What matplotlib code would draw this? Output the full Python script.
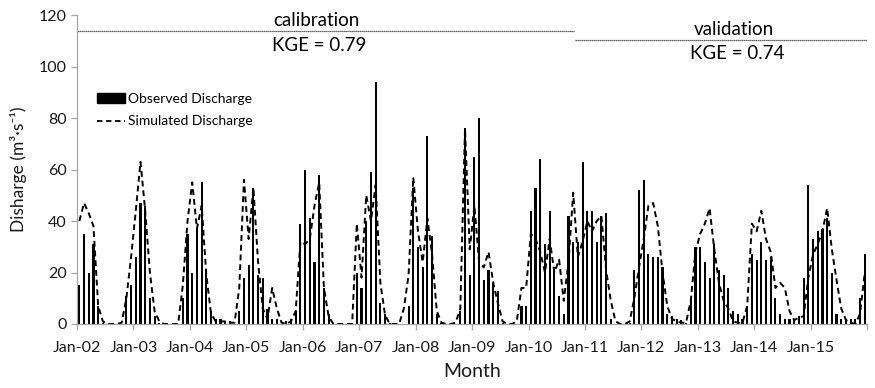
import numpy as np
import matplotlib
matplotlib.use("Agg")
import matplotlib.pyplot as plt
from matplotlib.patches import Patch
from matplotlib.lines import Line2D

plt.rcParams['font.family'] = ['Lato', 'DejaVu Sans']

years = ['Jan-02', 'Jan-03', 'Jan-04', 'Jan-05', 'Jan-06', 'Jan-07', 'Jan-08',
         'Jan-09', 'Jan-10', 'Jan-11', 'Jan-12', 'Jan-13', 'Jan-14', 'Jan-15']

# observed discharge, one row per year (Jan..Dec)
observed = [
    15, 35, 20, 31, 7, 0.5, 0, 0, 0, 0, 11, 15,
    26, 47, 46, 10, 3, 0.5, 0, 0, 0, 0, 10, 35,
    20, 37, 55, 21, 5, 2, 2, 1, 1, 0, 5, 18,
    23, 53, 19, 18, 6, 2, 2, 0, 1, 2, 5, 39,
    60, 41, 24, 58, 14, 4, 0.5, 0, 0, 0, 0, 20,
    14, 40, 59, 94, 8, 4, 0.5, 0, 0, 0, 7, 53,
    30, 22, 73, 34, 4, 0.5, 0, 0, 0, 5, 76, 19,
    65, 80, 17, 21, 16, 13, 0.5, 0, 0, 0, 7, 7,
    44, 53, 64, 31, 44, 22, 11, 4, 42, 32, 32, 63,
    44, 44, 32, 42, 43, 2, 0, 0, 0, 0.5, 21, 52,
    56, 27, 26, 26, 22, 4, 3, 2, 1.5, 0.5, 10, 30,
    30, 24, 18, 31, 21, 19, 14, 5, 4, 2, 7, 27,
    25, 32, 25, 26, 10, 4, 2, 2, 2, 3, 18, 54,
    33, 36, 37, 41, 20, 4, 2, 2, 2, 2, 10, 27,
]

# simulated discharge
simulated = [
    40, 47, 43, 38, 7, 1, 0, 0, 0, 0.5, 10, 26,
    44, 63, 44, 20, 5, 1, 0, 0, 0, 0, 15, 40,
    55, 37, 46, 19, 4, 1, 1, 1, 0.5, 0.5, 14, 56,
    33, 53, 24, 6, 2, 14, 6, 0.5, 0, 1, 5, 32,
    31, 33, 46, 55, 14, 3, 0, 0, 0, 0, 0, 39,
    18, 50, 40, 54, 16, 3.5, 0, 0, 0, 6, 19, 57,
    36, 24, 41, 27, 5, 0.5, 0, 0, 0.5, 6, 76, 29,
    46, 24, 22, 28, 16, 8, 1, 0, 0, 1, 14, 14,
    35, 33, 28, 20, 33, 20, 25, 9, 24, 51, 26, 32,
    40, 36, 40, 42, 21, 9, 1, 0, 0, 1, 10, 22,
    33, 46, 47, 38, 20, 7, 2, 1, 0.5, 0.5, 9, 28,
    35, 39, 45, 29, 16, 9, 6, 1, 0.5, 0.5, 7, 39,
    36, 44, 33, 28, 14, 16, 14, 5, 1.5, 2.5, 3, 18,
    27, 31, 36, 45, 29, 17, 6, 1.5, 0.5, 0, 4, 20,
]

calib_end = 105.6   # month where calibration period ends
calib_level = 113.9
valid_level = 110.3

n = len(observed)
x = np.arange(n) + 0.5

fig = plt.figure(figsize=(8.75, 3.88), dpi=100)
ax = fig.add_axes([0.088, 0.165, 0.903, 0.796])

ax.bar(x, observed, width=0.45, color='black', zorder=2)
ax.plot(x, simulated, color='black', lw=1.4, ls=(0, (3, 2)), zorder=3)

# period separators
ax.plot([0, calib_end], [calib_level, calib_level], color='#333333', lw=0.9,
        ls=(0, (1, 0.6)), clip_on=False)
ax.plot([calib_end + 0.3, n], [valid_level, valid_level], color='#333333', lw=0.9,
        ls=(0, (1, 0.6)), clip_on=False)
ax.text(51.0, 118.0, 'calibration', ha='center', va='center', fontsize=13.5)
ax.text(51.4, 108.3, 'KGE = 0.79', ha='center', va='center', fontsize=13.5)
ax.text(139.6, 114.6, 'validation', ha='center', va='center', fontsize=13.5)
ax.text(140.4, 105.2, 'KGE = 0.74', ha='center', va='center', fontsize=13.5)

ax.set_xlim(0, n)
ax.set_ylim(0, 120)
ax.set_xticks(np.arange(0, n + 1, 12))
ax.set_xticklabels(years + [''])
ax.set_yticks(np.arange(0, 121, 20))

for s in ['top', 'right']:
    ax.spines[s].set_visible(False)
for s in ['left', 'bottom']:
    ax.spines[s].set_color('#a6a6a6')
    ax.spines[s].set_linewidth(0.9)
ax.tick_params(axis='both', colors='#a6a6a6', labelcolor='#1a1a1a',
               labelsize=11.5, length=4, width=0.9)
ax.tick_params(axis='x', pad=8)

ax.set_xlabel('Month', fontsize=14, labelpad=6, color='#1a1a1a')
ax.set_ylabel('Disharge (m³·s⁻¹)', fontsize=12.5, labelpad=8, color='#1a1a1a')

handles = [Patch(facecolor='black', edgecolor='black'),
           Line2D([], [], color='black', lw=1.3, ls=(0, (3, 2)))]
ax.legend(handles, ['Observed Discharge', 'Simulated Discharge'],
          loc='upper left', bbox_to_anchor=(97 / 875, 1 - 93 / 388),
          bbox_transform=fig.transFigure, frameon=False, fontsize=10,
          handlelength=2.0, handleheight=0.7, handletextpad=0.25,
          labelspacing=0.75, borderpad=0, borderaxespad=0)

fig.savefig('out.png', dpi=100)
